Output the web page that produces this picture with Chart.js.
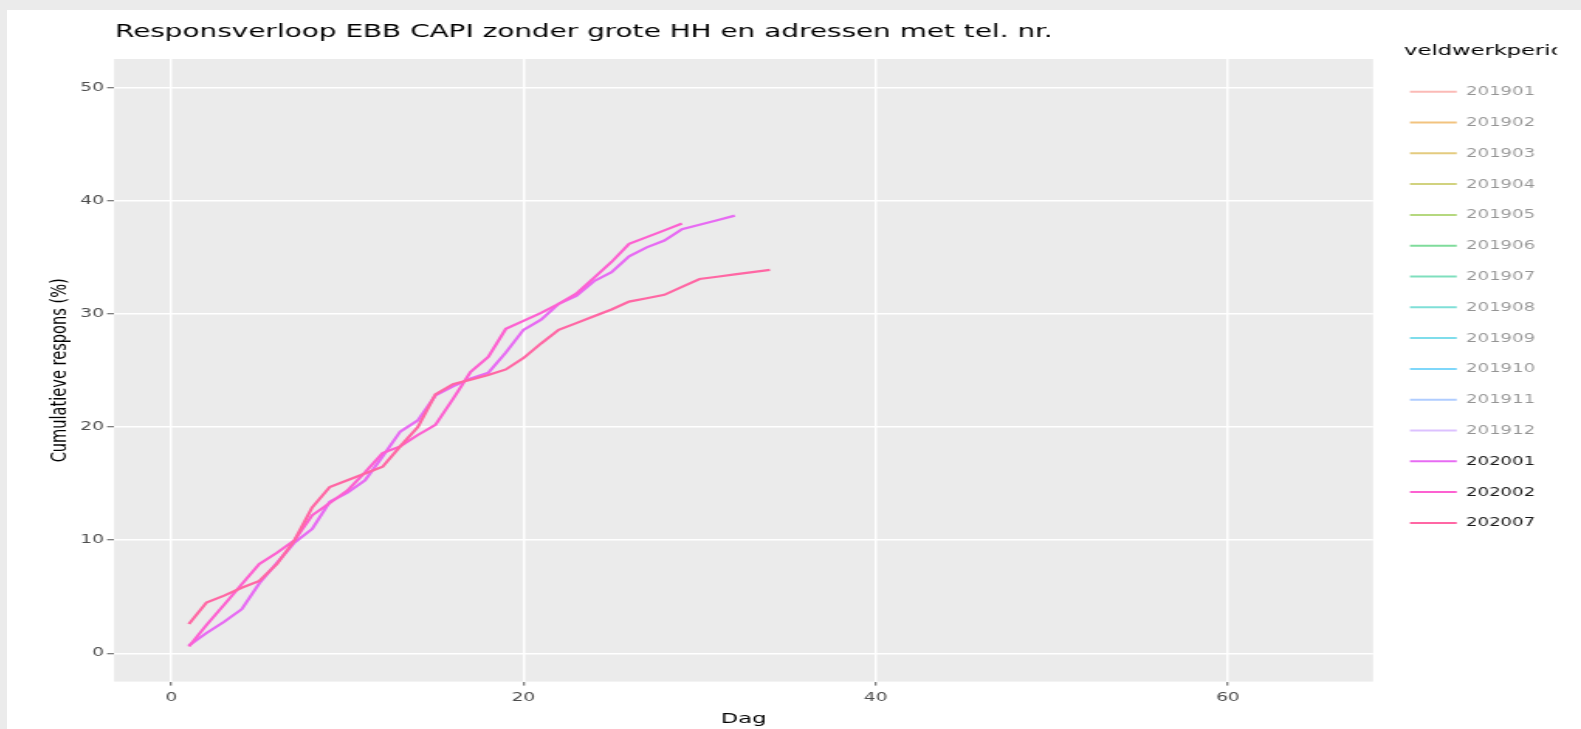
<!DOCTYPE html>
<html>
<head>
<meta charset="utf-8">
<title>Responsverloop EBB CAPI</title>
<script src="https://cdn.jsdelivr.net/npm/chart.js@4.4.1/dist/chart.umd.min.js"></script>
<style>
  html, body { margin: 0; padding: 0; background: #ebebeb; overflow: hidden; }
  #frame { position: absolute; left: 7px; top: 10px; width: 1574px; height: 719px; background: #fff; overflow: hidden; }
  /* the reference is a horizontally stretched screenshot, so the canvas is stretched too */
  #chart { display: block; transform: scaleX(1.5492); transform-origin: 0 0; }
</style>
</head>
<body>
<div id="frame"><canvas id="chart" width="1016" height="719"></canvas></div>
<script>
// data: cumulative response (%) per field day
const chartTitle = 'Responsverloop EBB CAPI zonder grote HH en adressen met tel. nr.';
const legendTitle = 'veldwerkperiode';
const xTitle = 'Dag';
const yTitle = 'Cumulatieve respons (%)';

const periods = ['201901', '201902', '201903', '201904', '201905', '201906', '201907', '201908',
  '201909', '201910', '201911', '201912', '202001', '202002', '202007'];
const periodColors = ['#F8766D', '#E58700', '#C99800', '#A3A500', '#6BB100', '#00BA38', '#00BF7D', '#00C0AF',
  '#00BCD8', '#00B0F6', '#619CFF', '#B983FF', '#E76BF3', '#FD61D1', '#FF67A4'];

const days = [1, 2, 3, 4, 5, 6, 7, 8, 9, 10, 11, 12, 13, 14, 15, 16, 17,
  18, 19, 20, 21, 22, 23, 24, 25, 26, 27, 28, 29, 30, 31, 32, 33, 34];

const resp202001 = [0.7, 1.8, 2.8, 3.9, 6.2, 8.0, 9.8, 11.0, 13.4, 14.2, 15.3, 17.4, 19.6, 20.6, 22.8, 23.6,
  24.3, 24.8, 26.6, 28.6, 29.5, 30.9, 31.6, 32.9, 33.7, 35.1, 35.9, 36.5, 37.5, 37.9, 38.3, 38.7];
const resp202002 = [0.6, 2.5, 4.3, 6.1, 7.9, 8.9, 10.0, 12.2, 13.3, 14.4, 16.0, 17.7, 18.3, 19.3, 20.2, 22.5,
  24.9, 26.2, 28.7, 29.4, 30.1, 30.9, 31.8, 33.2, 34.6, 36.2, 36.8, 37.4, 38.0];
const resp202007 = [2.6, 4.5, 5.1, 5.8, 6.4, 7.9, 10.0, 12.9, 14.7, 15.3, 15.9, 16.5, 18.3, 20.0, 22.9, 23.8,
  24.2, 24.6, 25.1, 26.1, 27.4, 28.6, 29.2, 29.8, 30.4, 31.1, 31.4, 31.7, 32.4, 33.1, 33.3, 33.5, 33.7, 33.9];

// only these periods are shown, the others are legend-only
const shownPeriods = ['202001', '202002', '202007'];
const shownValues = [resp202001, resp202002, resp202007];

const xTicks = [0, 20, 40, 60];
const yTicks = [0, 10, 20, 30, 40, 50];

function valuesFor(period) {
  const k = shownPeriods.indexOf(period);
  return k < 0 ? [] : shownValues[k];
}

function fade(hex, a) {
  const n = parseInt(hex.slice(1), 16);
  return `rgba(${n >> 16},${(n >> 8) & 255},${n & 255},${a})`;
}

const datasets = periods.map((p, i) => ({
  label: p,
  data: valuesFor(p).map((v, j) => ({ x: days[j], y: v })),
  hidden: !shownPeriods.includes(p),
  borderColor: periodColors[i],
  borderWidth: 2.2,
  pointRadius: 0,
  tension: 0,
  fill: false,
  order: periods.length - i,
}));

const FONT = 'DejaVu Sans';

// grey panel, title and the plotly-style legend
const decor = {
  id: 'decor',
  beforeDraw(chart) {
    const { ctx, chartArea: a } = chart;
    ctx.save();
    ctx.fillStyle = '#ebebeb';
    ctx.fillRect(a.left, a.top, a.right - a.left, a.bottom - a.top);
    ctx.restore();
  },
  afterDraw(chart) {
    const ctx = chart.ctx;
    ctx.save();
    ctx.fillStyle = '#000';
    ctx.font = `18px ${FONT}`;
    ctx.textBaseline = 'alphabetic';
    ctx.fillText(chartTitle, 69.7, 27.2);

    ctx.beginPath();
    ctx.rect(0, 0, 1000.4, chart.height);
    ctx.clip();
    ctx.font = `14.6px ${FONT}`;
    ctx.fillText(legendTitle, 901.8, 45);

    ctx.font = `11.7px ${FONT}`;
    ctx.textBaseline = 'middle';
    periods.forEach((p, i) => {
      const y = 81.7 + 30.8 * i;
      const on = shownPeriods.includes(p);
      ctx.strokeStyle = on ? periodColors[i] : fade(periodColors[i], 0.5);
      ctx.lineWidth = 2;
      ctx.beginPath();
      ctx.moveTo(905.6, y);
      ctx.lineTo(935.8, y);
      ctx.stroke();
      ctx.fillStyle = on ? '#1a1a1a' : 'rgba(0,0,0,0.42)';
      ctx.fillText(p, 941.8, y + 0.5);
    });
    ctx.restore();
  }
};

new Chart(document.getElementById('chart'), {
  type: 'line',
  data: { datasets },
  plugins: [decor],
  options: {
    responsive: false,
    devicePixelRatio: 1,
    animation: false,
    events: [],
    layout: { padding: { left: 0, right: 134.2, top: 49, bottom: 0 } },
    plugins: {
      legend: { display: false },
      title: { display: false },
      tooltip: { enabled: false }
    },
    scales: {
      x: {
        type: 'linear',
        min: -3.25,
        max: 68.25,
        afterBuildTicks: s => { s.ticks = xTicks.map(v => ({ value: v })); },
        afterFit: s => { s.height = 47.4; },
        grid: { color: '#ffffff', lineWidth: 1.5, tickLength: 4, tickColor: '#555', tickWidth: 1 },
        border: { display: false },
        ticks: { color: '#4d4d4d', font: { family: FONT, size: 12 }, padding: 5.5, maxRotation: 0 },
        title: { display: true, text: xTitle, color: '#000', font: { family: FONT, size: 14.6 }, padding: { top: 0, bottom: 1.3 } }
      },
      y: {
        type: 'linear',
        min: -2.5,
        max: 52.55,
        afterBuildTicks: s => { s.ticks = yTicks.map(v => ({ value: v })); },
        afterFit: s => { s.width = 69.1; },
        grid: { color: '#ffffff', lineWidth: 1.5, tickLength: 4.5, tickColor: '#555', tickWidth: 1 },
        border: { display: false },
        ticks: { color: '#4d4d4d', font: { family: FONT, size: 12 }, padding: 2 },
        title: { display: true, text: yTitle, color: '#000', font: { family: FONT, size: 14.6 }, padding: { top: 25.8, bottom: 0 } }
      }
    }
  }
});
</script>
</body>
</html>
